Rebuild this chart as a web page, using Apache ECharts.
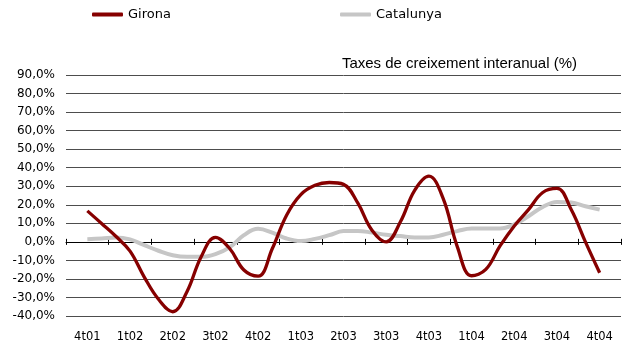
<!DOCTYPE html>
<html>
<head>
<meta charset="utf-8">
<script src="https://cdn.jsdelivr.net/npm/echarts@6/dist/echarts.min.js"></script>
<style>
  html, body { margin: 0; padding: 0; background: #fff; }
  #chart { width: 629px; height: 347px; }
</style>
</head>
<body>
<div id="chart"></div>
<script>
// Quarter labels shown along the bottom
const quarters = ['4t01', '1t02', '2t02', '3t02', '4t02', '1t03', '2t03', '3t03', '4t03', '1t04', '2t04', '3t04', '4t04'];

// Monthly readings (interannual growth, %), from 4t01 through 4t04
const girona = [
  16.7, 9.9, 3.0, -5.0, -19.0, -31.0, -37.7, -26.9, -8.0,
  2.4, -3.6, -15.2, -18.5, -3.6, 14.4, 25.5, 30.5, 32.0,
  31.0, 21.0, 6.3, 0.0, 10.8, 27.8, 35.4, 23.4, -2.7,
  -18.3, -14.9, -2.2, 8.6, 17.4, 26.6, 28.8, 17.4, 0.0, -16.7
];
const catalunya = [
  1.4, 1.8, 2.4, 1.3, -1.8, -4.8, -7.2, -8.1, -8.1,
  -6.6, -3.0, 3.6, 7.0, 5.0, 1.8, 0.4, 1.6, 3.6,
  5.8, 5.9, 5.0, 3.8, 3.1, 2.4, 2.4, 3.8, 5.8,
  7.2, 7.2, 7.2, 9.4, 13.8, 18.8, 21.5, 21.2, 19.2, 17.4
];

const seriesNames = ['Girona', 'Catalunya'];
const yTicks = { min: -40, max: 90, step: 10 };
const chartTitle = 'Taxes de creixement interanual (%)';

// three months per quarter; month 0 sits in the middle of the first quarter
const monthsPerQuarter = 3;
const toPoints = arr => arr.map((v, i) => [i, v]);

const chart = echarts.init(document.getElementById('chart'), null, { renderer: 'canvas' });

const labelFont = 'DejaVu Sans';
const quarterAxisBase = {
  type: 'category',
  data: quarters,
  boundaryGap: true,
  gridIndex: 0
};

chart.setOption({
  animation: false,
  backgroundColor: '#ffffff',
  title: {
    text: chartTitle,
    right: 52,
    top: 56,
    padding: 0,
    textStyle: { fontFamily: 'Liberation Sans', fontSize: 15, fontWeight: 'normal', color: '#000' }
  },
  legend: [
    {
      data: [seriesNames[0]],
      left: 92, top: 8, padding: 0,
      icon: 'roundRect', itemWidth: 31, itemHeight: 4,
      textStyle: { fontFamily: labelFont, fontSize: 13, color: '#000' }
    },
    {
      data: [seriesNames[1]],
      left: 340, top: 8, padding: 0,
      icon: 'roundRect', itemWidth: 31, itemHeight: 4,
      textStyle: { fontFamily: labelFont, fontSize: 13, color: '#000' }
    }
  ],
  grid: { left: 66, right: 8, top: 75, bottom: 31, containLabel: false },
  xAxis: [
    // bottom labels
    Object.assign({}, quarterAxisBase, {
      position: 'bottom',
      axisLine: { show: false },
      axisTick: { show: false },
      axisLabel: { margin: 15, fontFamily: labelFont, fontSize: 11.5, color: '#000' },
      splitLine: { show: false }
    }),
    // zero line with ticks below it
    Object.assign({}, quarterAxisBase, {
      axisLine: { show: true, onZero: true, onZeroAxisIndex: 0, lineStyle: { color: '#000', width: 1 } },
      axisTick: { show: true, length: 3, inside: false, lineStyle: { color: '#000' } },
      axisLabel: { show: false },
      splitLine: { show: false }
    }),
    // ticks above the zero line
    Object.assign({}, quarterAxisBase, {
      axisLine: { show: false, onZero: true, onZeroAxisIndex: 0 },
      axisTick: { show: true, length: 3, inside: true, lineStyle: { color: '#000' } },
      axisLabel: { show: false },
      splitLine: { show: false }
    }),
    // monthly position axis for the lines
    {
      type: 'value',
      min: -monthsPerQuarter / 2,
      max: (quarters.length - 1) * monthsPerQuarter + monthsPerQuarter / 2,
      show: false,
      axisLine: { onZero: false },
      splitLine: { show: false }
    }
  ],
  yAxis: {
    type: 'value',
    min: yTicks.min,
    max: yTicks.max,
    interval: yTicks.step,
    axisLine: { show: false, onZero: false },
    axisTick: { show: false },
    axisLabel: {
      margin: 11,
      fontFamily: labelFont,
      fontSize: 12,
      color: '#000',
      formatter: v => v.toFixed(1).replace('.', ',') + '%'
    },
    splitLine: { show: true, lineStyle: { color: '#4d4d4d', width: 1 } }
  },
  series: [
    {
      name: seriesNames[1],
      type: 'line',
      xAxisIndex: 3,
      data: toPoints(catalunya),
      smooth: 0.4,
      symbol: 'none',
      color: '#c6c6c6',
      lineStyle: { color: '#c6c6c6', width: 4 },
      z: 3
    },
    {
      name: seriesNames[0],
      type: 'line',
      xAxisIndex: 3,
      data: toPoints(girona),
      smooth: 0.4,
      symbol: 'none',
      color: '#860000',
      lineStyle: { color: '#860000', width: 3.3 },
      z: 4
    }
  ]
});
</script>
</body>
</html>
